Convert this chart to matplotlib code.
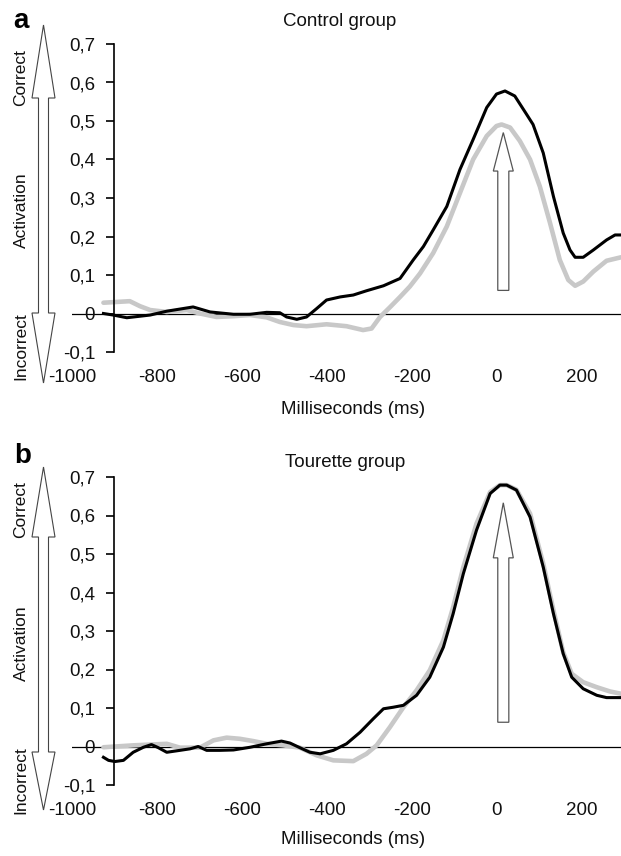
import matplotlib.pyplot as plt
from matplotlib.patches import Polygon
from matplotlib.ticker import FuncFormatter

plt.rcParams['font.family'] = ['Liberation Sans', 'DejaVu Sans']
plt.rcParams['axes.unicode_minus'] = False

# ---- data (ms, activation) ----
ctrl_black_ms = [-926, -903, -871, -816, -777, -715, -675, -620, -581, -542, -511, -495, -471,
                 -448, -424, -401, -369, -338, -307, -267, -228, -197, -173, -150, -118, -87,
                 -56, -24, -1, 19, 42, 70, 85, 109, 133, 156, 172, 184, 203, 227, 258, 278, 292]
ctrl_black = [0.0, -0.004, -0.011, -0.004, 0.006, 0.017, 0.004, -0.002, -0.002, 0.003, 0.002,
              -0.009, -0.015, -0.009, 0.013, 0.035, 0.043, 0.048, 0.059, 0.072, 0.091, 0.139,
              0.174, 0.217, 0.278, 0.374, 0.452, 0.535, 0.570, 0.578, 0.565, 0.517, 0.491,
              0.417, 0.304, 0.209, 0.165, 0.146, 0.146, 0.165, 0.191, 0.204, 0.204]

ctrl_gray_ms = [-926, -895, -864, -840, -816, -777, -730, -699, -660, -620, -581, -542, -511,
                -479, -448, -401, -354, -315, -295, -275, -252, -228, -205, -181, -150, -118,
                -87, -56, -24, -1, 11, 31, 54, 78, 101, 125, 148, 168, 184, 203, 227, 258, 292]
ctrl_gray = [0.028, 0.030, 0.032, 0.019, 0.009, 0.004, 0.009, 0.0, -0.009, -0.007, -0.004,
             -0.010, -0.022, -0.030, -0.033, -0.028, -0.033, -0.043, -0.039, -0.009, 0.016,
             0.043, 0.070, 0.104, 0.157, 0.226, 0.313, 0.400, 0.461, 0.487, 0.491, 0.483,
             0.448, 0.400, 0.330, 0.235, 0.139, 0.087, 0.072, 0.083, 0.109, 0.137, 0.146]

tour_black_ms = [-926, -914, -899, -879, -856, -832, -813, -797, -777, -746, -722, -703, -683,
                 -652, -620, -581, -542, -507, -487, -464, -440, -416, -385, -354, -322, -291,
                 -267, -244, -220, -189, -158, -126, -103, -79, -48, -16, 7, 23, 46, 78, 109,
                 133, 156, 176, 203, 235, 258, 292]
tour_black = [-0.028, -0.036, -0.039, -0.036, -0.015, -0.002, 0.005, -0.003, -0.015, -0.010,
              -0.006, 0.0, -0.010, -0.010, -0.009, -0.002, 0.007, 0.014, 0.009, -0.003, -0.015,
              -0.019, -0.010, 0.007, 0.037, 0.072, 0.098, 0.102, 0.107, 0.133, 0.180, 0.258,
              0.345, 0.449, 0.562, 0.657, 0.679, 0.679, 0.666, 0.596, 0.466, 0.345, 0.241,
              0.180, 0.150, 0.133, 0.127, 0.127]

tour_gray_ms = [-926, -856, -777, -746, -699, -667, -636, -605, -573, -542, -503, -464, -424,
                -385, -338, -307, -283, -252, -220, -189, -158, -126, -103, -79, -48, -16, 7,
                23, 46, 78, 109, 133, 156, 176, 203, 235, 266, 292]
tour_gray = [-0.002, 0.003, 0.007, -0.003, -0.003, 0.016, 0.023, 0.020, 0.014, 0.007, 0.003,
             -0.003, -0.023, -0.036, -0.038, -0.019, 0.003, 0.050, 0.102, 0.146, 0.198, 0.276,
             0.362, 0.466, 0.579, 0.661, 0.679, 0.679, 0.667, 0.605, 0.475, 0.354, 0.245,
             0.189, 0.167, 0.154, 0.143, 0.137]

x_ticks = [-1000, -800, -600, -400, -200, 0, 200]
y_ticks = [-0.1, 0, 0.1, 0.2, 0.3, 0.4, 0.5, 0.6, 0.7]

# inner arrow (ms centre, tip, head base, tail) per panel
arrow_a = (15, 0.47, 0.37, 0.06)
arrow_b = (15, 0.633, 0.49, 0.063)

W, H = 621, 856
fig = plt.figure(figsize=(W / 100, H / 100), dpi=100)


def fx(px):
    return px / W


def fy(py):
    return 1 - py / H


def comma(v, pos):
    if abs(v) < 1e-9:
        return '0'
    return f'{v:.1f}'.replace('.', ',')


def side_arrow(cx, top, top_base, bot_base, bot, hw=11.5, sw=5):
    pts = [(cx, top), (cx + hw, top_base), (cx + sw, top_base), (cx + sw, bot_base),
           (cx + hw, bot_base), (cx, bot), (cx - hw, bot_base), (cx - sw, bot_base),
           (cx - sw, top_base), (cx - hw, top_base)]
    pts = [(fx(x), fy(y)) for x, y in pts]
    fig.patches.append(Polygon(pts, closed=True, transform=fig.transFigure,
                               facecolor='white', edgecolor='#444444', lw=0.8))


def panel(top_px, bx, by, gx, gy, arr, title, title_x, title_y, xlab_y):
    bottom_px = top_px + 308
    ax = fig.add_axes([fx(72), fy(bottom_px), fx(621) - fx(72), (bottom_px - top_px) / H])
    ax.plot(gx, gy, color='#c8c8c8', lw=3.3, solid_capstyle='round', zorder=2)
    ax.plot(bx, by, color='black', lw=2.2, zorder=3)
    ax.axhline(0, color='black', lw=0.9, zorder=1)

    cx, tip, base, tail = arr
    hw, sw = 23.5, 13
    pts = [(cx, tip), (cx + hw, base), (cx + sw, base), (cx + sw, tail),
           (cx - sw, tail), (cx - sw, base), (cx - hw, base)]
    ax.add_patch(Polygon(pts, closed=True, facecolor='white', edgecolor='#555555',
                         lw=0.9, zorder=4))

    ax.set_xlim(-1000, 292)
    ax.set_ylim(-0.1, 0.7)
    for s in ['top', 'right', 'bottom']:
        ax.spines[s].set_visible(False)
    ax.spines['left'].set_position(('data', -900))
    ax.spines['left'].set_linewidth(1.2)
    ax.set_yticks(y_ticks)
    ax.yaxis.set_major_formatter(FuncFormatter(comma))
    ax.set_xticks(x_ticks)
    ax.set_xticklabels([str(t) for t in x_ticks])
    ax.tick_params(axis='y', direction='out', length=6, width=1.2, pad=8,
                   labelsize=13.5, labelcolor='#111111')
    ax.tick_params(axis='x', length=0, pad=12, labelsize=13.5, labelcolor='#111111')
    ax.set_xlabel('Milliseconds (ms)', fontsize=13.5, color='#111111')
    ax.xaxis.set_label_coords(0.512, xlab_y)
    ax.text(title_x, title_y, title, transform=ax.transAxes, ha='center',
            va='baseline', fontsize=13.5, color='#111111')
    return ax


panel(44, ctrl_black_ms, ctrl_black, ctrl_gray_ms, ctrl_gray, arrow_a,
      'Control group', 0.488, 1.058, -0.158)
panel(477, tour_black_ms, tour_black, tour_gray_ms, tour_gray, arrow_b,
      'Tourette group', 0.498, 1.032, -0.150)

side_arrow(43.5, 25, 98, 313, 383)
side_arrow(43.5, 467, 537, 752, 810)

for label, y in [('Correct', 78), ('Activation', 210), ('Incorrect', 346),
                 ('Correct', 510), ('Activation', 643), ('Incorrect', 780)]:
    fig.text(fx(21), fy(y), label, rotation=90, ha='center', va='center',
             fontsize=12.5, color='#111111')

fig.text(fx(13), fy(28), 'a', fontsize=20, fontweight='bold', va='baseline')
fig.text(fx(14), fy(463), 'b', fontsize=20, fontweight='bold', va='baseline')

fig.savefig('out.png', dpi=100)
